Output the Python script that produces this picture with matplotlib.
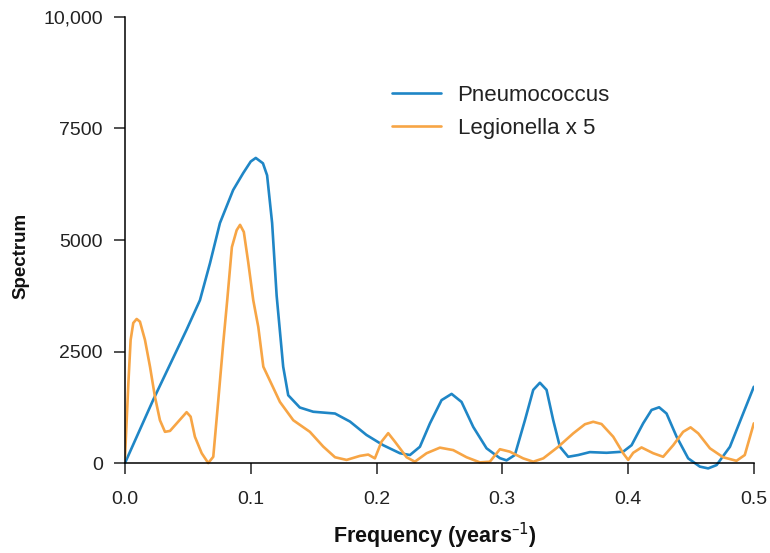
import matplotlib.pyplot as plt

# Pneumococcus spectrum
pneumo_freq = [0.0, 0.0225, 0.049, 0.0596, 0.0676, 0.0755, 0.086, 0.094, 0.100, 0.104,
               0.1097, 0.113, 0.117, 0.1206, 0.1258, 0.1298, 0.139, 0.1497, 0.167, 0.1789,
               0.192, 0.2053, 0.2186, 0.2266, 0.2345, 0.2425, 0.2517, 0.2597, 0.2676, 0.2769,
               0.2875, 0.2981, 0.3034, 0.310, 0.318, 0.3246, 0.3299, 0.3352, 0.3405, 0.3458,
               0.3524, 0.3604, 0.3696, 0.3829, 0.3961, 0.4028, 0.412, 0.4187, 0.4247, 0.4306,
               0.4386, 0.4478, 0.4571, 0.4637, 0.4704, 0.481, 0.4915, 0.5]
pneumo_spec = [0, 1420, 2990, 3650, 4480, 5380, 6120, 6500, 6760, 6840,
               6720, 6450, 5380, 3750, 2160, 1520, 1245, 1150, 1110, 930,
               630, 400, 220, 180, 365, 890, 1410, 1550, 1370, 810,
               330, 110, 60, 180, 960, 1640, 1800, 1640, 960, 365,
               140, 180, 245, 230, 255, 400, 890, 1190, 1250, 1110,
               590, 105, -80, -120, -45, 365, 1110, 1710]

# Legionella spectrum, multiplied by 5
legion_freq = [0.0, 0.0027, 0.0045, 0.0066, 0.0093, 0.0119, 0.0159, 0.0199, 0.0238, 0.0278,
               0.0318, 0.0358, 0.0424, 0.049, 0.0522, 0.0556, 0.061, 0.0662, 0.0702, 0.0742,
               0.0781, 0.0813, 0.085, 0.0888, 0.0915, 0.0945, 0.098, 0.102, 0.106, 0.110,
               0.1177, 0.1232, 0.1338, 0.147, 0.1576, 0.167, 0.1762, 0.1868, 0.1934, 0.1987,
               0.204, 0.2093, 0.2146, 0.2239, 0.2305, 0.2398, 0.2504, 0.261, 0.2716, 0.2822,
               0.2901, 0.2981, 0.306, 0.3166, 0.3246, 0.3326, 0.3445, 0.3564, 0.3657, 0.3723,
               0.3789, 0.3882, 0.3961, 0.4001, 0.4041, 0.4107, 0.420, 0.4279, 0.4359, 0.4438,
               0.4497, 0.4558, 0.4651, 0.4756, 0.4862, 0.4928, 0.5]
legion_spec = [120, 1790, 2760, 3140, 3230, 3170, 2760, 2160, 1490, 960,
               700, 720, 930, 1140, 1040, 590, 220, 0, 140, 1410,
               2680, 3650, 4840, 5220, 5340, 5180, 4500, 3650, 3050, 2160,
               1700, 1370, 960, 700, 370, 130, 70, 160, 190, 105,
               480, 670, 480, 130, 30, 220, 345, 290, 130, 15,
               30, 310, 255, 105, 30, 105, 365, 665, 870, 925,
               875, 590, 220, 70, 230, 350, 220, 140, 400, 700,
               800, 665, 330, 130, 50, 180, 890]

x_ticks = [0.0, 0.1, 0.2, 0.3, 0.4, 0.5]
x_tick_labels = ['0.0', '0.1', '0.2', '0.3', '0.4', '0.5']
y_ticks = [0, 2500, 5000, 7500, 10000]
y_tick_labels = ['0', '2500', '5000', '7500', '10,000']

plt.rcParams['font.family'] = ['Liberation Sans', 'DejaVu Sans']

fig = plt.figure(figsize=(7.7, 5.53), dpi=100)
ax = fig.add_axes([0.1623, 0.1425, 0.8167, 0.8268])

ax.plot(pneumo_freq, pneumo_spec, color='#1f86c6', lw=1.9, label='Pneumococcus',
        solid_joinstyle='round', solid_capstyle='round')
ax.plot(legion_freq, legion_spec, color='#f7a545', lw=1.9, label='Legionella x 5',
        solid_joinstyle='round', solid_capstyle='round')

ax.set_xlim(0, 0.5)
ax.set_ylim(-250, 10000)

# spines only over the data range
for s in ['top', 'right']:
    ax.spines[s].set_visible(False)
ax.spines['bottom'].set_position(('data', 0))
ax.spines['bottom'].set_bounds(0, 0.5)
ax.spines['left'].set_bounds(0, 10000)
ax.spines['bottom'].set_linewidth(1.1)
ax.spines['left'].set_linewidth(1.1)

ax.set_xticks(x_ticks)
ax.set_xticklabels(x_tick_labels)
ax.set_yticks(y_ticks)
ax.set_yticklabels(y_tick_labels)
ax.tick_params(axis='both', labelsize=14, length=8, width=1.1, colors='#222222')
ax.tick_params(axis='x', pad=12)
ax.tick_params(axis='y', pad=8)

fig.text(0.565, 0.003, 'Frequency (years$^{\u2013 1}$)', ha='center', va='bottom',
         fontsize=15.5, fontweight='bold', color='#111111')
fig.text(0.027, 0.538, 'Spectrum', ha='center', va='center', rotation=90,
         fontsize=13.5, fontweight='bold', color='#111111')

ax.legend(loc='upper left', bbox_to_anchor=(392 / 770, 1 - 85 / 553),
          bbox_transform=fig.transFigure, frameon=False, fontsize=16,
          handlelength=2.2, handletextpad=0.75, labelspacing=0.55,
          borderpad=0, borderaxespad=0, labelcolor='#222222')

fig.savefig('out.png', dpi=100)
